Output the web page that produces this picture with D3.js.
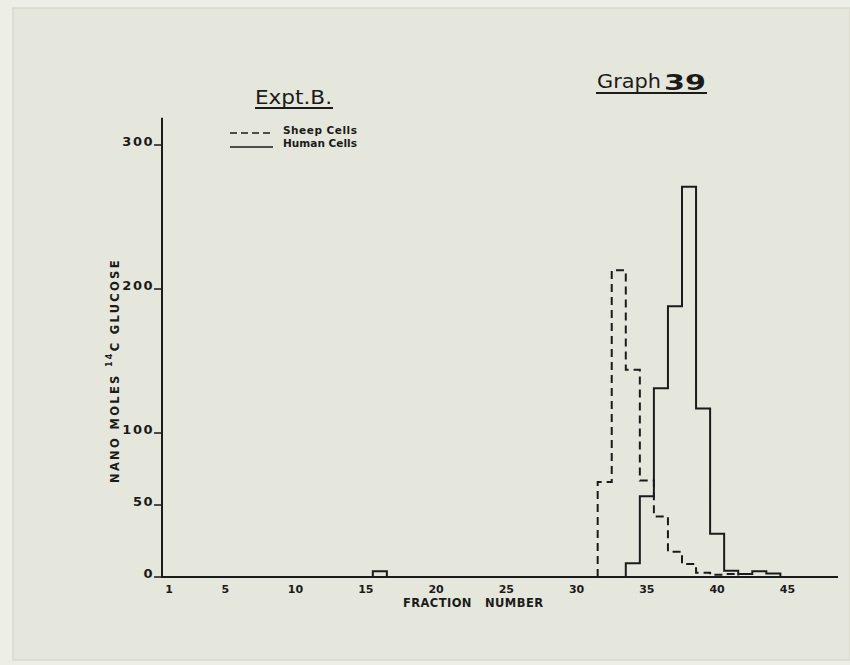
<!DOCTYPE html>
<html>
<head>
<meta charset="utf-8">
<script src="https://cdn.jsdelivr.net/npm/d3@7"></script>
<style>
  body { margin: 0; background: #ecede4; }
  svg text { font-family: "DejaVu Sans", sans-serif; fill: #1b1b1b; }
</style>
</head>
<body>
<svg id="chart" width="850" height="665"></svg>
<script>
// values (fraction -> nano moles)
var sheepFractions = [32, 33, 34, 35, 36, 37, 38, 39, 40, 41];
var sheepValues    = [66, 213, 144, 67, 42, 17.6, 9, 3, 1.5, 2];

var humanFractions = [16, 34, 35, 36, 37, 38, 39, 40, 41, 42, 43, 44];
var humanValues    = [4, 9.5, 56, 131, 188, 271, 117, 30, 4.4, 2, 4, 2.5];

var xTicks = [1, 5, 10, 15, 20, 25, 30, 35, 40, 45];
var yTicks = [0, 50, 100, 200, 300];

var svg = d3.select("#chart");

// paper
svg.append("rect").attr("x", 0).attr("y", 0).attr("width", 850).attr("height", 665).attr("fill", "#edeee6");
svg.append("rect").attr("x", 13).attr("y", 8).attr("width", 837).attr("height", 652)
  .attr("fill", "#e6e7dc").attr("stroke", "#d8d9ce").attr("stroke-width", 1.5);

var x = d3.scaleLinear().domain([0.5, 48.6]).range([162, 838]);
var y = d3.scaleLinear().domain([0, 300]).range([577, 145]);

var ink = "#1b1b1b";

// axes
svg.append("line").attr("x1", x(0.5)).attr("x2", x(48.6)).attr("y1", y(0)).attr("y2", y(0))
  .attr("stroke", ink).attr("stroke-width", 2);
svg.append("line").attr("x1", x(0.5)).attr("x2", x(0.5)).attr("y1", y(0) + 1).attr("y2", y(319))
  .attr("stroke", ink).attr("stroke-width", 2);

// y ticks, hand-lettered style: label sits on the tick stub
var yt = svg.append("g").selectAll("g").data(yTicks).enter().append("g");
yt.append("line")
  .attr("x1", x(0.5) - 8).attr("x2", x(0.5))
  .attr("y1", function(d) { return y(d); })
  .attr("y2", function(d) { return y(d); })
  .attr("stroke", ink).attr("stroke-width", 1.5);
yt.append("text")
  .attr("x", x(0.5) - 8)
  .attr("y", function(d) { return y(d) + 1; })
  .attr("text-anchor", "end")
  .attr("font-size", 13)
  .attr("font-weight", "bold")
  .attr("letter-spacing", 1.5)
  .text(function(d) { return d; });

// x tick labels
svg.append("g").selectAll("text").data(xTicks).enter().append("text")
  .attr("x", function(d) { return x(d); })
  .attr("y", 593)
  .attr("text-anchor", "middle")
  .attr("font-size", 11)
  .attr("font-weight", "bold")
  .text(function(d) { return d; });

svg.append("text")
  .attr("x", 403).attr("y", 607)
  .attr("font-size", 11.5).attr("font-weight", "bold")
  .attr("textLength", 140).attr("lengthAdjust", "spacing")
  .attr("xml:space", "preserve")
  .text("FRACTION   NUMBER");

// y axis title
var yl = svg.append("text")
  .attr("transform", "translate(119,483) rotate(-90)")
  .attr("font-size", 11.5).attr("font-weight", "bold")
  .attr("letter-spacing", 2.3);
yl.append("tspan").text("NANO MOLES ");
yl.append("tspan").attr("font-size", 8).attr("dy", -7).text("14");
yl.append("tspan").attr("dy", 7).text("C GLUCOSE");

// titles
svg.append("text").attr("x", 255).attr("y", 104)
  .attr("font-size", 20).attr("textLength", 77).attr("lengthAdjust", "spacingAndGlyphs")
  .text("Expt.B.");
svg.append("line").attr("x1", 255).attr("x2", 333).attr("y1", 108).attr("y2", 108)
  .attr("stroke", ink).attr("stroke-width", 1.8);

svg.append("text").attr("x", 597).attr("y", 88).attr("font-size", 19)
  .attr("textLength", 64).attr("lengthAdjust", "spacingAndGlyphs").text("Graph");
svg.append("text").attr("x", 664).attr("y", 90).attr("font-size", 22).attr("font-weight", "900")
  .attr("textLength", 42).attr("lengthAdjust", "spacingAndGlyphs").text("39");
svg.append("line").attr("x1", 596).attr("x2", 707).attr("y1", 93).attr("y2", 93)
  .attr("stroke", ink).attr("stroke-width", 1.8);

// legend
svg.append("line").attr("x1", 230).attr("x2", 273).attr("y1", 133).attr("y2", 133)
  .attr("stroke", ink).attr("stroke-width", 1.5).attr("stroke-dasharray", "7,4");
svg.append("line").attr("x1", 230).attr("x2", 273).attr("y1", 147).attr("y2", 147)
  .attr("stroke", ink).attr("stroke-width", 1.5);
svg.append("text").attr("x", 283).attr("y", 134).attr("font-size", 10.5).attr("font-weight", "bold")
  .attr("textLength", 74).text("Sheep Cells");
svg.append("text").attr("x", 283).attr("y", 147).attr("font-size", 10.5).attr("font-weight", "bold")
  .attr("textLength", 74).text("Human Cells");

// step outline for runs of adjacent fractions
function stepRuns(fracs, vals) {
  var runs = [], cur = null;
  fracs.forEach(function(f, i) {
    if (!cur || f !== fracs[i - 1] + 1) {
      if (cur) { cur.push([fracs[i - 1] + 0.5, 0]); runs.push(cur); }
      cur = [[f - 0.5, 0]];
    }
    cur.push([f - 0.5, vals[i]]);
    cur.push([f + 0.5, vals[i]]);
  });
  cur.push([fracs[fracs.length - 1] + 0.5, 0]);
  runs.push(cur);
  return runs;
}

var line = d3.line()
  .x(function(d) { return x(d[0]); })
  .y(function(d) { return y(d[1]); });

svg.append("g").selectAll("path").data(stepRuns(sheepFractions, sheepValues)).enter().append("path")
  .attr("d", line)
  .attr("fill", "none").attr("stroke", ink).attr("stroke-width", 2)
  .attr("stroke-dasharray", "8,5");

svg.append("g").selectAll("path").data(stepRuns(humanFractions, humanValues)).enter().append("path")
  .attr("d", line)
  .attr("fill", "none").attr("stroke", ink).attr("stroke-width", 2);
</script>
</body>
</html>
